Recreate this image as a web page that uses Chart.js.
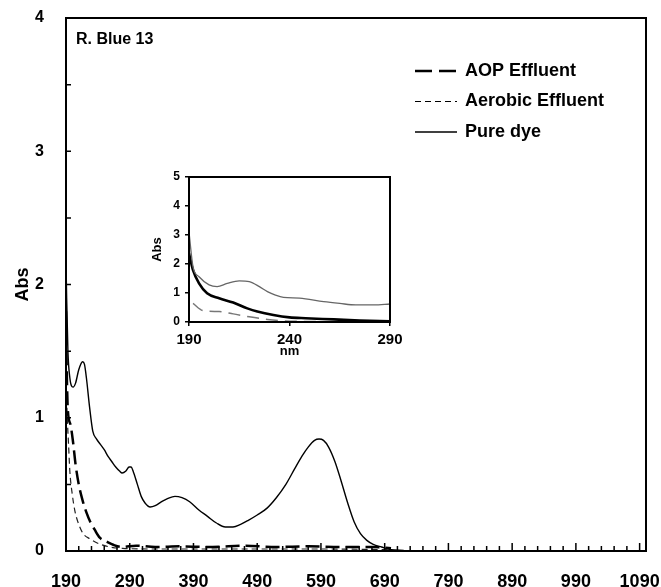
<!DOCTYPE html>
<html>
<head>
<meta charset="utf-8">
<script src="https://cdn.jsdelivr.net/npm/chart.js@4.4.1/dist/chart.umd.min.js"></script>
<style>
  html, body { margin: 0; padding: 0; background: #fff; }
  #wrap { position: relative; width: 661px; height: 587px; }
  #grafico { position: absolute; left: 0; top: 0; }
  #inset { position: absolute; left: 140px; top: 160px; }
</style>
</head>
<body>
<div id="wrap">
  <canvas id="grafico" width="661" height="587"></canvas>
  <canvas id="inset" width="270" height="200"></canvas>
</div>
<script>
// espectro principal (nm / Abs)
const pureNm = [190,191,193,196,201,205,210,216,219,222,227,232,238,244,250,256,262,268,274,278,284,289,292,296,302,308,314,322,330,340,350,361,372,384,398,412,426,440,452,464,476,490,505,520,535,548,560,570,580,587,594,602,612,622,632,642,652,662,672,685,700,720];
const pureAbs = [2.17,1.9,1.5,1.3,1.23,1.26,1.36,1.42,1.4,1.3,1.08,0.9,0.84,0.8,0.76,0.71,0.67,0.63,0.6,0.585,0.6,0.63,0.63,0.59,0.5,0.41,0.36,0.33,0.34,0.37,0.395,0.41,0.4,0.37,0.31,0.26,0.21,0.18,0.18,0.2,0.23,0.27,0.32,0.4,0.5,0.61,0.71,0.78,0.83,0.84,0.83,0.78,0.67,0.52,0.36,0.22,0.13,0.08,0.05,0.03,0.01,0.005];

const aopNm = [190,191,193,197,201,205,210,216,222,228,235,243,254,265,278,300,330,370,420,470,520,570,620,670,700];
const aopAbs = [1.8,1.4,1.05,0.95,0.82,0.65,0.5,0.38,0.29,0.22,0.16,0.1,0.07,0.045,0.03,0.04,0.03,0.035,0.03,0.04,0.03,0.035,0.03,0.03,0.02];

const aeroNm = [190,192,194,196,200,204,210,217,228,239,259,279,320,400,500,600,700];
const aeroAbs = [1.3,1.0,0.8,0.6,0.42,0.3,0.2,0.13,0.09,0.06,0.03,0.02,0.015,0.015,0.015,0.015,0.01];

const xTicks = [190,290,390,490,590,690,790,890,990,1090];
const yTicks = [0,1,2,3,4];

// detalhe 190-290 nm
const insetPureNm = [190,192,195,200,204,209,215,220,225,229,233,237,245,257,265,273,282,290];
const insetPureAbs = [3.1,1.9,1.56,1.28,1.22,1.33,1.42,1.39,1.22,1.05,0.93,0.85,0.82,0.7,0.64,0.59,0.59,0.62];
const insetAopNm = [190,192,195,199,205,212,219,224,232,240,248,262,275,290];
const insetAopAbs = [2.37,1.79,1.33,0.99,0.82,0.67,0.47,0.36,0.24,0.16,0.13,0.09,0.05,0.02];
const insetAeroNm = [192,197,205,212,220,229,237,248,265,290];
const insetAeroAbs = [0.64,0.39,0.36,0.28,0.18,0.09,0.04,0.02,0.01,0.01];
const insetXTicks = [190,240,290];

const FONTE = "'Liberation Sans', Arial, sans-serif";
const pontos = (xs, ys) => xs.map((x, i) => ({ x, y: ys[i] }));

const legendaItens = [
  { texto: 'AOP Effluent', dash: [17, 7], largura: 2.5 },
  { texto: 'Aerobic Effluent', dash: [6, 4], largura: 1.2 },
  { texto: 'Pure dye', dash: [], largura: 1.4 }
];

// sem folga extra das etiquetas: a área do gráfico fica fixa
const semFolga = s => { s.paddingLeft = 0; s.paddingRight = 0; s.paddingTop = 0; s.paddingBottom = 0; };

const moldura = {
  id: 'moldura',
  afterDraw(chart) {
    const { ctx, chartArea: a, scales: { x, y } } = chart;
    ctx.save();
    ctx.strokeStyle = '#000';
    ctx.lineWidth = 1.5;
    ctx.beginPath();
    for (let v = 210; v <= 1090; v += 20) {
      const px = x.getPixelForValue(v);
      const len = (v - 190) % 100 === 0 ? 8 : 5;
      ctx.moveTo(px, a.bottom);
      ctx.lineTo(px, a.bottom - len);
    }
    for (let v = 0.5; v < 4; v += 0.5) {
      const py = y.getPixelForValue(v);
      ctx.moveTo(a.left, py);
      ctx.lineTo(a.left + 5, py);
    }
    ctx.stroke();
    ctx.lineWidth = 2;
    ctx.strokeRect(a.left, a.top, a.right - a.left, a.bottom - a.top);

    ctx.fillStyle = '#000';
    ctx.textBaseline = 'middle';
    ctx.font = 'bold 16px ' + FONTE;
    ctx.fillText('R. Blue 13', 76, 40);

    // legenda
    ctx.font = 'bold 18px ' + FONTE;
    legendaItens.forEach((item, i) => {
      const ly = 71 + i * 30.5;
      ctx.beginPath();
      ctx.setLineDash(item.dash);
      ctx.lineWidth = item.largura;
      ctx.moveTo(415, ly);
      ctx.lineTo(457, ly);
      ctx.stroke();
      ctx.setLineDash([]);
      ctx.fillText(item.texto, 465, ly);
    });
    ctx.restore();
  }
};

const caixa = {
  id: 'caixa',
  afterDraw(chart) {
    const { ctx, chartArea: a } = chart;
    ctx.save();
    ctx.strokeStyle = '#000';
    ctx.lineWidth = 2;
    ctx.strokeRect(a.left, a.top, a.right - a.left, a.bottom - a.top);
    ctx.restore();
  }
};

new Chart(document.getElementById('grafico').getContext('2d'), {
  type: 'line',
  data: {
    datasets: [
      { label: 'AOP Effluent', data: pontos(aopNm, aopAbs), borderColor: '#000', borderWidth: 2.5, borderDash: [14, 6] },
      { label: 'Aerobic Effluent', data: pontos(aeroNm, aeroAbs), borderColor: '#222', borderWidth: 1.2, borderDash: [6, 4] },
      { label: 'Pure dye', data: pontos(pureNm, pureAbs), borderColor: '#000', borderWidth: 1.4 }
    ]
  },
  options: {
    responsive: false,
    animation: false,
    elements: { point: { radius: 0 }, line: { cubicInterpolationMode: 'monotone', fill: false } },
    layout: { padding: { top: 18, right: 15, left: 0, bottom: 0 } },
    plugins: { legend: { display: false }, tooltip: { enabled: false } },
    scales: {
      x: {
        type: 'linear', min: 190, max: 1100,
        afterBuildTicks: s => { s.ticks = xTicks.map(v => ({ value: v })); },
        afterFit: s => { s.height = 36; semFolga(s); },
        grid: { display: false },
        border: { display: false },
        ticks: { color: '#000', font: { family: FONTE, size: 18, weight: 'bold' }, padding: 12, maxRotation: 0, autoSkip: false, callback: v => String(v) }
      },
      y: {
        min: 0, max: 4,
        afterBuildTicks: s => { s.ticks = yTicks.map(v => ({ value: v })); },
        afterFit: s => { s.width = 66; semFolga(s); },
        grid: { display: false },
        border: { display: false },
        ticks: { color: '#000', font: { family: FONTE, size: 16, weight: 'bold' }, padding: 14, callback: v => String(v) },
        title: { display: true, text: 'Abs', color: '#000', font: { family: FONTE, size: 18, weight: 'bold' }, padding: { top: 12, bottom: 0 } }
      }
    }
  },
  plugins: [moldura]
});

const eixoInset = {
  color: '#000', lineWidth: 1.5, drawOnChartArea: false, drawTicks: true, tickLength: 4
};

new Chart(document.getElementById('inset').getContext('2d'), {
  type: 'line',
  data: {
    datasets: [
      { label: 'Pure dye', data: pontos(insetPureNm, insetPureAbs), borderColor: '#666', borderWidth: 1.3 },
      { label: 'AOP Effluent', data: pontos(insetAopNm, insetAopAbs), borderColor: '#000', borderWidth: 2.6 },
      { label: 'Aerobic Effluent', data: pontos(insetAeroNm, insetAeroAbs), borderColor: '#777', borderWidth: 1.5, borderDash: [12, 7] }
    ]
  },
  options: {
    responsive: false,
    animation: false,
    elements: { point: { radius: 0 }, line: { cubicInterpolationMode: 'monotone', fill: false } },
    layout: { padding: { top: 17, right: 20, left: 0, bottom: 0 } },
    plugins: { legend: { display: false }, tooltip: { enabled: false } },
    scales: {
      x: {
        type: 'linear', min: 190, max: 290,
        afterBuildTicks: s => { s.ticks = insetXTicks.map(v => ({ value: v })); },
        afterFit: s => { s.height = 38; semFolga(s); },
        grid: eixoInset,
        border: { display: false },
        ticks: { color: '#000', font: { family: FONTE, size: 15, weight: 'bold' }, padding: 5, maxRotation: 0, autoSkip: false, callback: v => String(v) },
        title: { display: true, text: 'nm', color: '#000', font: { family: FONTE, size: 13, weight: 'bold' }, padding: { top: 0, bottom: 1 } }
      },
      y: {
        min: 0, max: 5,
        ticks: { stepSize: 1, color: '#000', font: { family: FONTE, size: 12, weight: 'bold' }, padding: 5, callback: v => String(v) },
        afterFit: s => { s.width = 49; semFolga(s); },
        grid: eixoInset,
        border: { display: false },
        title: { display: true, text: 'Abs', color: '#000', font: { family: FONTE, size: 13, weight: 'bold' }, padding: { top: 10, bottom: 0 } }
      }
    }
  },
  plugins: [caixa]
});
</script>
</body>
</html>
